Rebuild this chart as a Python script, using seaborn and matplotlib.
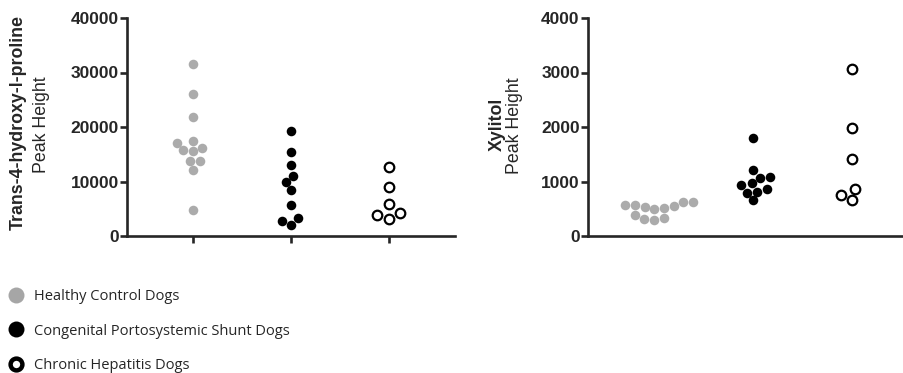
import matplotlib
matplotlib.use("Agg")
import matplotlib.pyplot as plt
from matplotlib.lines import Line2D
import pandas as pd
import seaborn as sns

# group names (legend order)
groups = ["Healthy Control Dogs", "Congenital Portosystemic Shunt Dogs", "Chronic Hepatitis Dogs"]

# Trans-4-hydroxy-l-proline peak heights
hyp_healthy = [31500, 26000, 21900, 17500, 17100, 16100, 15600, 15700, 13800, 13800, 12100, 4800]
hyp_cpss = [19300, 15500, 13000, 11100, 9900, 8400, 5700, 3300, 2700, 2100]
hyp_ch = [12600, 9000, 5900, 4300, 3800, 3100]

# Xylitol peak heights
xyl_healthy = [630, 624, 569, 563, 550, 538, 519, 490, 385, 336, 306, 294]
xyl_cpss = [1800, 1210, 1085, 1070, 965, 935, 870, 815, 795, 655]
xyl_ch = [3060, 1975, 1405, 870, 760, 660]

hyp_ticks = [0, 10000, 20000, 30000, 40000]
xyl_ticks = [0, 1000, 2000, 3000, 4000]


def make_df(healthy, cpss, ch):
    return pd.DataFrame({
        "group": [groups[0]] * len(healthy) + [groups[1]] * len(cpss) + [groups[2]] * len(ch),
        "value": healthy + cpss + ch,
    })


sns.set_style("ticks")
plt.rcParams["font.family"] = ["Liberation Sans", "DejaVu Sans"]

styles = {
    groups[0]: dict(color="#ababab", edgecolor="#ababab", linewidth=0),
    groups[1]: dict(color="black", edgecolor="black", linewidth=0),
    groups[2]: dict(color="white", edgecolor="black", linewidth=1.6),
}

fig = plt.figure(figsize=(9.04, 3.73), dpi=100)
W, H = 904, 373
ax1 = fig.add_axes([127 / W, (H - 236) / H, 328 / W, 218 / H])
ax2 = fig.add_axes([588 / W, (H - 236) / H, 330 / W, 218 / H])


def draw(ax, df, ticks, ymax, show_xticks):
    for g in groups:
        sub = df[df["group"] == g]
        sns.swarmplot(data=sub, x="group", y="value", order=groups, ax=ax,
                      size=6.9, **styles[g])
    ax.set_xlim(-0.67, 2.67)
    ax.set_ylim(0, ymax)
    ax.set_yticks(ticks)
    ax.set_yticklabels([str(t) for t in ticks], fontsize=12.5, fontweight="bold")
    ax.set_xlabel("")
    ax.set_ylabel("")
    for s in ["top", "right"]:
        ax.spines[s].set_visible(False)
    for s in ["left", "bottom"]:
        ax.spines[s].set_linewidth(1.9)
    ax.tick_params(axis="y", length=5, width=1.9, pad=1)
    ax.set_xticklabels([])
    if show_xticks:
        ax.tick_params(axis="x", length=5, width=1.9)
    else:
        ax.tick_params(axis="x", length=0)


draw(ax1, make_df(hyp_healthy, hyp_cpss, hyp_ch), hyp_ticks, 40000, True)
draw(ax2, make_df(xyl_healthy, xyl_cpss, xyl_ch), xyl_ticks, 4000, False)

# two-line y labels (bold metabolite, regular "Peak Height")
fig.text(18 / W, 1 - 122 / H, "Trans-4-hydroxy-l-proline", rotation=90,
         ha="center", va="center", fontsize=12.8, fontweight="bold")
fig.text(42 / W, 1 - 125 / H, "Peak Height", rotation=90,
         ha="center", va="center", fontsize=12.8)
fig.text(497 / W, 1 - 124 / H, "Xylitol", rotation=90,
         ha="center", va="center", fontsize=12.8, fontweight="bold")
fig.text(515 / W, 1 - 126 / H, "Peak Height", rotation=90,
         ha="center", va="center", fontsize=12.8)

handles = [
    Line2D([], [], ls="", marker="o", markersize=11.5, color="#a6a6a6", markeredgewidth=0),
    Line2D([], [], ls="", marker="o", markersize=11.5, color="black", markeredgewidth=0),
    Line2D([], [], ls="", marker="o", markersize=8.5, markerfacecolor="white",
           markeredgecolor="black", markeredgewidth=3.2),
]
fig.legend(handles, groups, loc="upper left", bbox_to_anchor=(-4 / W, 1 - 276 / H),
           frameon=False, handlelength=1.0, handletextpad=0.73, labelspacing=1.33,
           prop={"family": "Open Sans", "size": 10.5})

fig.savefig("out.png", dpi=100)
